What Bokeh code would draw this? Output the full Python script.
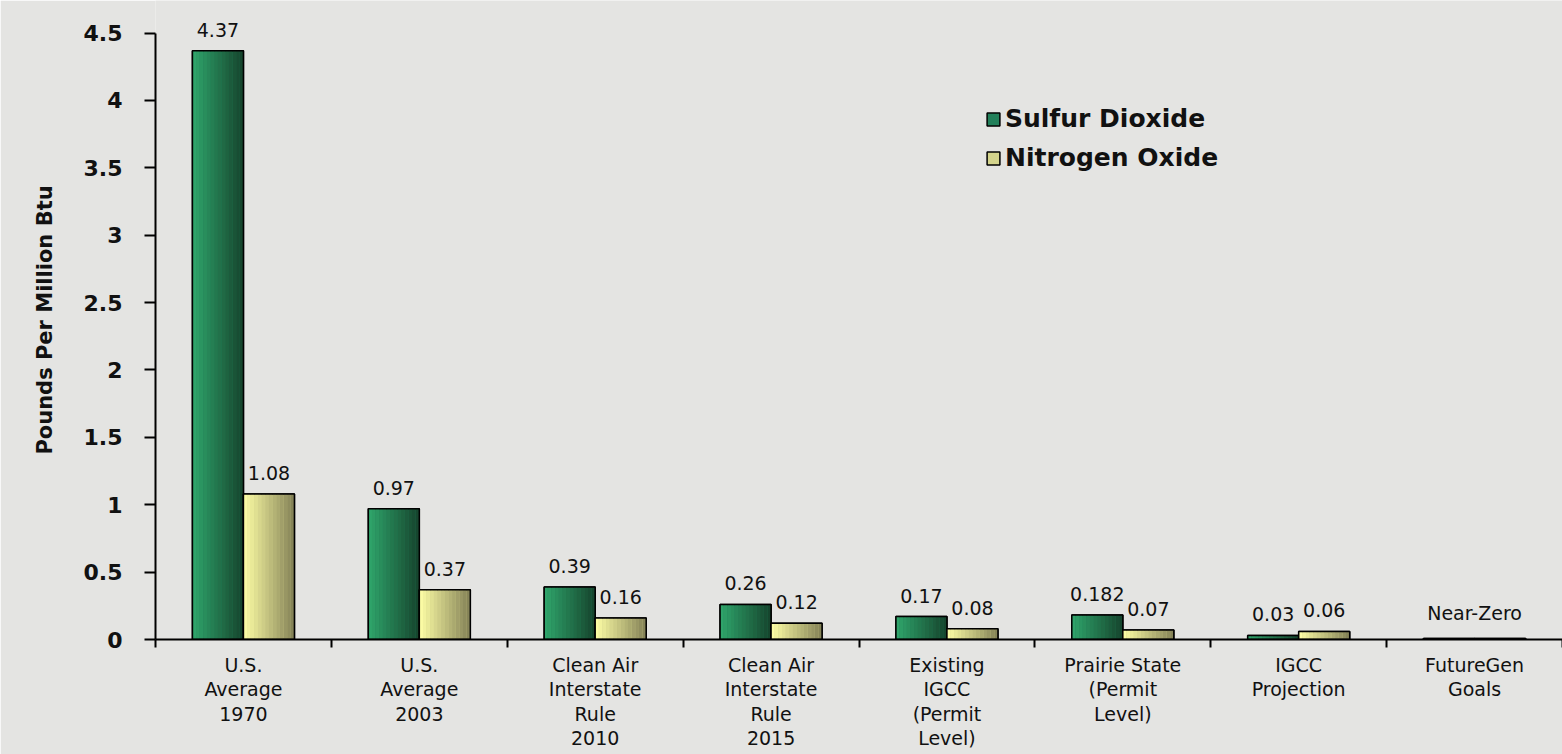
from bokeh.plotting import figure
from bokeh.models import (ColumnDataSource, FixedTicker, Range1d, Legend,
                          LegendItem)
from bokeh.core.properties import value
from bokeh.embed import file_html
from bokeh.resources import INLINE

# --- data -------------------------------------------------------------
categories = [
    "U.S.\nAverage\n1970",
    "U.S.\nAverage\n2003",
    "Clean Air\nInterstate\nRule\n2010",
    "Clean Air\nInterstate\nRule\n2015",
    "Existing\nIGCC\n(Permit\nLevel)",
    "Prairie State\n(Permit\nLevel)",
    "IGCC\nProjection",
    "FutureGen\nGoals",
]
sulfur_dioxide = [4.37, 0.97, 0.39, 0.26, 0.17, 0.182, 0.03, 0.008]
nitrogen_oxide = [1.08, 0.37, 0.16, 0.12, 0.08, 0.07, 0.06, 0.008]
so2_labels = ["4.37", "0.97", "0.39", "0.26", "0.17", "0.182", "0.03", ""]
nox_labels = ["1.08", "0.37", "0.16", "0.12", "0.08", "0.07", "0.06", ""]
group_notes = ["", "", "", "", "", "", "", "Near-Zero"]
y_ticks = [0, 0.5, 1, 1.5, 2, 2.5, 3, 3.5, 4, 4.5]
y_tick_labels = ["0", "0.5", "1", "1.5", "2", "2.5", "3", "3.5", "4", "4.5"]

# --- styling ----------------------------------------------------------
BG = "#e4e4e2"
FONT = "DejaVu Sans"
BAR_W = 0.29
STRIPS = 14
green_stops = ((0x2f, 0xa3, 0x6a), (0x16, 0x46, 0x2e))
yellow_stops = ((0xfb, 0xfb, 0xa4), (0x86, 0x84, 0x58))

n = len(categories)
centers = [i + 0.5 for i in range(n)]

p = figure(width=1562, height=754, output_backend="svg", toolbar_location=None,
           x_range=Range1d(0, n), y_range=Range1d(0, 4.742),
           min_border_left=155, min_border_right=0,
           min_border_top=0, min_border_bottom=115)
p.background_fill_color = BG
p.border_fill_color = BG
p.outline_line_color = None
p.xgrid.visible = False
p.ygrid.visible = False


def lerp(c0, c1, t):
    return "#%02x%02x%02x" % tuple(int(round(a + (b - a) * t)) for a, b in zip(c0, c1))


def draw_series(vals, offset, stops, base_color, label):
    xs = [c + offset for c in centers]
    src = ColumnDataSource(dict(x=xs, top=vals))
    base = p.vbar(x="x", top="top", width=BAR_W, bottom=0, source=src,
                  fill_color=base_color, line_color="black", line_width=1.5)
    # horizontal shading of each bar, drawn as thin vertical strips
    sw = BAR_W / STRIPS
    for k in range(STRIPS):
        t = k / (STRIPS - 1)
        sx = [x - BAR_W / 2 + (k + 0.5) * sw for x in xs]
        p.vbar(x=sx, top=vals, width=sw * 1.02, bottom=0,
               fill_color=lerp(stops[0], stops[1], t), line_color=None)
    p.vbar(x="x", top="top", width=BAR_W, bottom=0, source=src,
           fill_color=None, line_color="black", line_width=1.5)
    return LegendItem(label=label, renderers=[base])


item_so2 = draw_series(sulfur_dioxide, -BAR_W / 2, green_stops, "#22805a", "Sulfur Dioxide")
item_nox = draw_series(nitrogen_oxide, BAR_W / 2, yellow_stops, "#d4d48c", "Nitrogen Oxide")

# value labels above bars
p.text(x=[c - BAR_W / 2 for c in centers], y=sulfur_dioxide, text=so2_labels,
       text_align="center", text_baseline="bottom", y_offset=-14,
       text_font=value(FONT), text_font_size="19px", text_color="#111111")
p.text(x=[c + BAR_W / 2 for c in centers], y=nitrogen_oxide, text=nox_labels,
       text_align="center", text_baseline="bottom", y_offset=-14,
       text_font=value(FONT), text_font_size="19px", text_color="#111111")
p.text(x=centers, y=[max(a, b) for a, b in zip(sulfur_dioxide, nitrogen_oxide)],
       text=group_notes, text_align="center", text_baseline="bottom", y_offset=-14,
       text_font=value(FONT), text_font_size="19px", text_color="#111111")

# y axis
ya = p.yaxis[0]
ya.ticker = FixedTicker(ticks=y_ticks)
ya.major_label_overrides = {t: s for t, s in zip(y_ticks, y_tick_labels)}
ya.bounds = (0, 4.5)
ya.axis_line_color = "black"
ya.axis_line_width = 2
ya.major_tick_line_width = 2
ya.major_tick_out = 11
ya.major_tick_in = 0
ya.minor_tick_out = 0
ya.minor_tick_in = 0
ya.major_label_standoff = 22
ya.major_label_text_font = FONT
ya.major_label_text_font_style = "bold"
ya.major_label_text_font_size = "22px"
ya.major_label_text_color = "#111111"
ya.axis_label = "Pounds Per Million Btu"
ya.axis_label_text_font = FONT
ya.axis_label_text_font_style = "bold"
ya.axis_label_text_font_size = "21px"
ya.axis_label_text_color = "#111111"
ya.axis_label_standoff = 24

# x axis: labels at category centres, ticks at category boundaries
xa = p.xaxis[0]
xa.ticker = FixedTicker(ticks=centers, minor_ticks=list(range(n + 1)))
xa.major_label_overrides = {c: lab for c, lab in zip(centers, categories)}
xa.axis_line_color = "black"
xa.axis_line_width = 2
xa.major_tick_out = 0
xa.major_tick_in = 0
xa.minor_tick_out = 8
xa.minor_tick_in = 0
xa.minor_tick_line_width = 2
xa.minor_tick_line_color = "black"
xa.major_label_standoff = 6
xa.major_label_text_font = FONT
xa.major_label_text_font_size = "19px"
xa.major_label_text_line_height = 1.12
xa.major_label_text_color = "#111111"

legend = Legend(items=[item_so2, item_nox], location=(830, 466),
                orientation="vertical", background_fill_alpha=0,
                border_line_color=None, padding=0, margin=0, spacing=8,
                glyph_width=16, glyph_height=16, label_standoff=4,
                label_height=31, label_text_font=FONT,
                label_text_font_style="bold", label_text_font_size="25px",
                label_text_color="#111111")
p.add_layout(legend, "center")

open("out.html", "w").write(file_html(p, INLINE))
